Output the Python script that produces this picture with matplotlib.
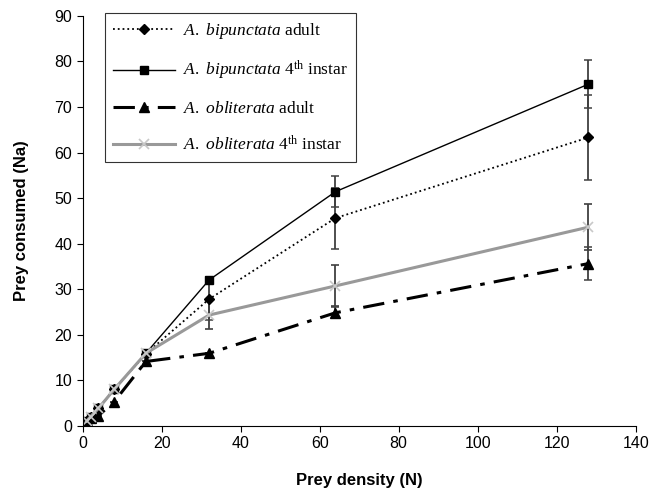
import numpy as np
import matplotlib
matplotlib.use("Agg")
import matplotlib.pyplot as plt
from matplotlib.lines import Line2D

plt.rcParams['font.family'] = ['Liberation Sans', 'DejaVu Sans']
plt.rcParams['mathtext.fontset'] = 'custom'
plt.rcParams['mathtext.rm'] = 'Liberation Serif'
plt.rcParams['mathtext.it'] = 'Liberation Serif:italic'

# prey density offered
density = [1, 2, 4, 8, 16, 32, 64, 128]

# A. bipunctata adult
bip_adult = [1.0, 2.0, 3.8, 8.0, 15.8, 27.8, 45.6, 63.3]
bip_adult_err = [0, 0, 0, 0, 0, 4.5, 6.7, 9.3]

# A. bipunctata 4th instar
bip_l4 = [1.0, 2.0, 3.9, 8.0, 15.9, 32.0, 51.4, 75.0]
bip_l4_err = [0, 0, 0, 0, 0, 0.6, 3.4, 5.3]

# A. obliterata adult
obl_adult = [1.0, 1.6, 2.2, 5.3, 14.1, 15.9, 24.8, 35.6]
obl_adult_err = [0, 0, 0, 0, 0, 0, 1.2, 3.6]

# A. obliterata 4th instar
obl_l4 = [1.0, 2.0, 3.8, 8.0, 15.9, 24.3, 30.7, 43.6]
obl_l4_err = [0, 0, 0, 0, 0, 3.0, 4.5, 5.0]

labels = [r'$\mathit{A.}$ $\mathit{bipunctata}$ adult',
          r'$\mathit{A.}$ $\mathit{bipunctata}$ 4$^{\mathrm{th}}$ instar',
          r'$\mathit{A.}$ $\mathit{obliterata}$ adult',
          r'$\mathit{A.}$ $\mathit{obliterata}$ 4$^{\mathrm{th}}$ instar']

styles = [
    dict(color='black', ls=':', lw=1.3, marker='D', ms=5.5),
    dict(color='black', ls='-', lw=1.0, marker='s', ms=6),
    dict(color='black', ls=(0, (7, 3, 1.5, 3)), lw=2.2, marker='^', ms=7),
    dict(color='#999999', ls='-', lw=2.2, marker='x', ms=7, mec='#c8c8c8', mew=1.2),
]

fig = plt.figure(figsize=(6.53, 4.98), dpi=100)
ax = fig.add_axes([0.1266, 0.1452, 0.8469, 0.8228])

ebkw = dict(ecolor='#404040', elinewidth=1.3, capsize=3.2, capthick=1.1)

series = [(bip_adult, bip_adult_err), (bip_l4, bip_l4_err),
          (obl_adult, obl_adult_err), (obl_l4, obl_l4_err)]
for (vals, errs), st in zip(series, styles):
    ax.errorbar(density, vals, yerr=errs, **st, **ebkw)

ax.set_xlim(0, 140)
ax.set_ylim(0, 90)
ax.set_xticks(np.arange(0, 141, 20))
ax.set_yticks(np.arange(0, 91, 10))
ax.spines['top'].set_visible(False)
ax.spines['right'].set_visible(False)
ax.tick_params(labelsize=11.5, direction='out', length=4)
ax.set_xlabel('Prey density (N)', fontsize=12, fontweight='bold', labelpad=16)
ax.set_ylabel('Prey consumed (Na)', fontsize=12, fontweight='bold', labelpad=18)

handles = [Line2D([], [], **st) for st in styles]
leg = ax.legend(handles, labels, loc='upper left', bbox_to_anchor=(0.04, 1.007),
                borderaxespad=0, fancybox=False, edgecolor='black',
                handlelength=3.6, handletextpad=0.45, labelspacing=1.05,
                prop={'family': 'Liberation Serif', 'size': 12.5}, borderpad=0.45)
leg.get_frame().set_linewidth(0.8)

fig.savefig('out.png', dpi=100)
